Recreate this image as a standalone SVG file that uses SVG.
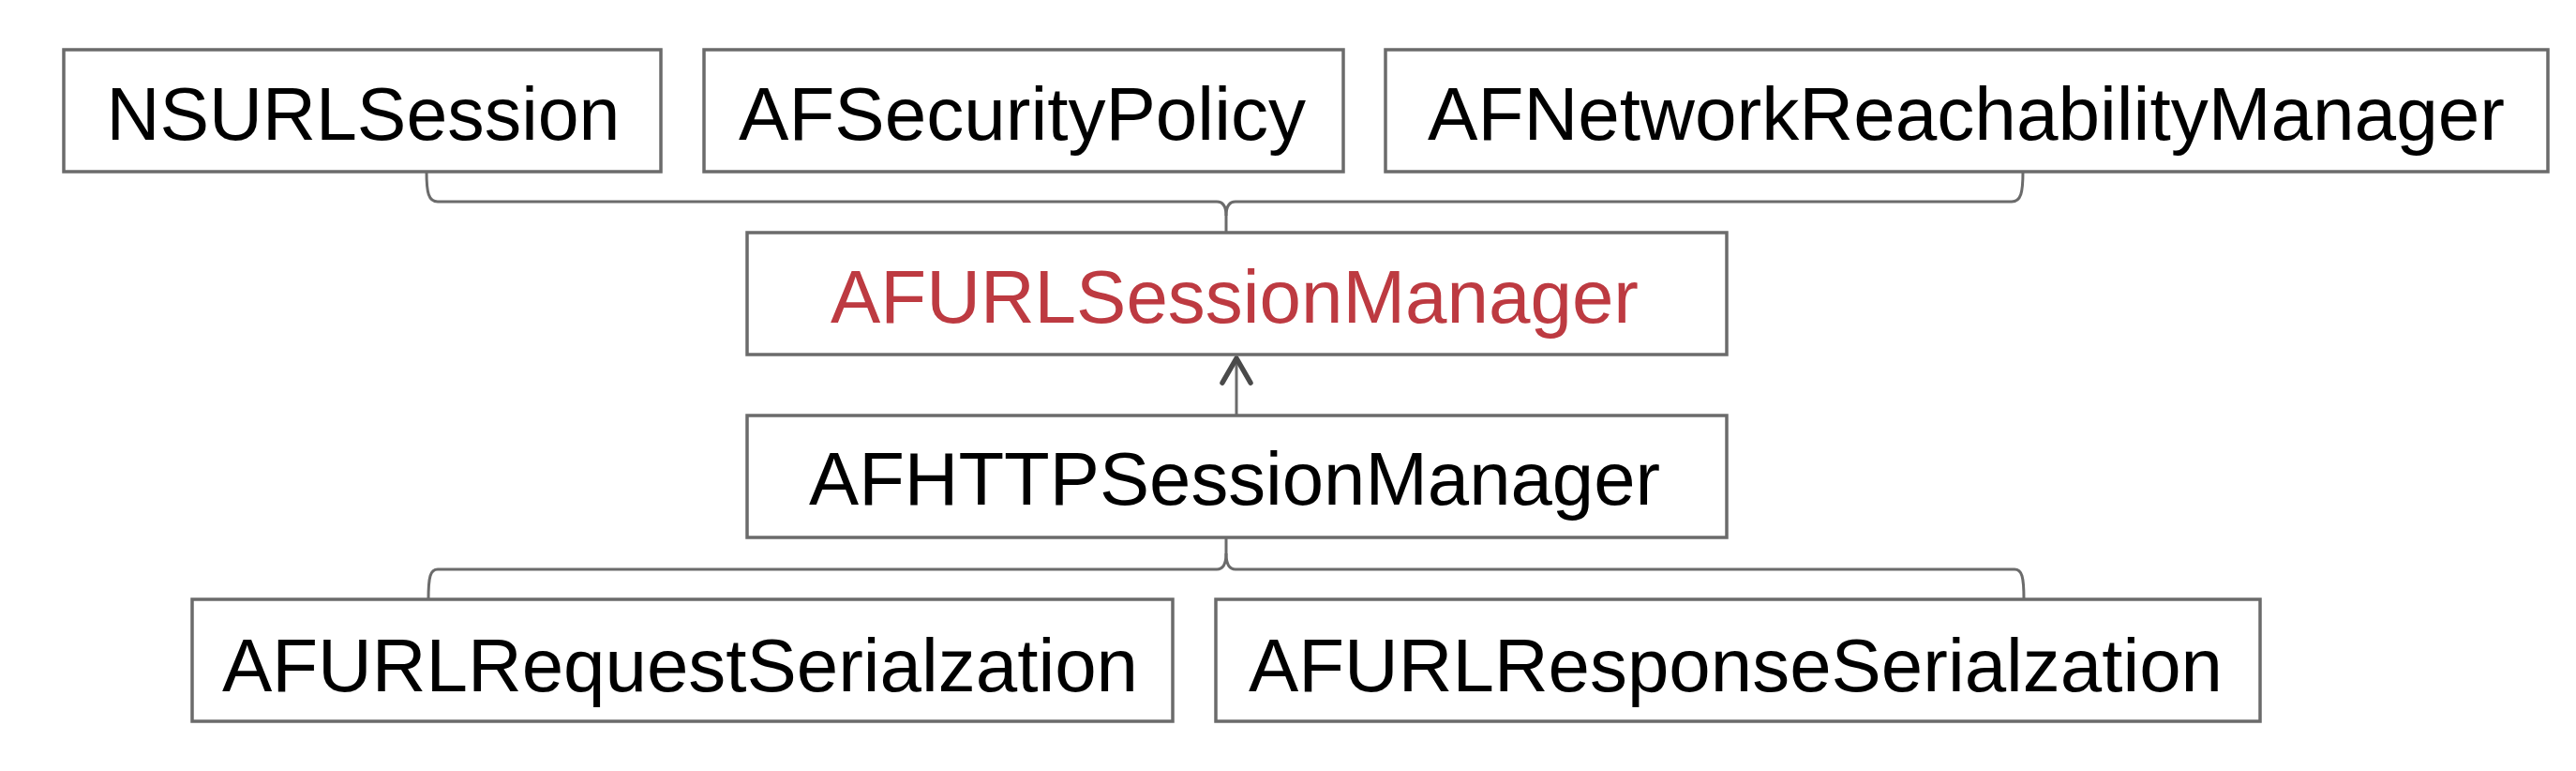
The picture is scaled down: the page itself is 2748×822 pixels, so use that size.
<svg xmlns="http://www.w3.org/2000/svg" width="2748" height="822" viewBox="0 0 2748 822">
<style>
.box{fill:#ffffff;stroke:#6b6b6b;stroke-width:3.5}
.lbl{font-family:"Liberation Sans",Arial,Helvetica,sans-serif;font-size:79px;fill:#000000}
.red{fill:#bd3a41}
.con{fill:none;stroke:#6b6b6b;stroke-width:3}
.arr{fill:none;stroke:#4a4a4a;stroke-width:5.5;stroke-linecap:round;stroke-linejoin:round}
</style>
<rect width="2748" height="822" fill="#ffffff"/>
<g id="connectors">
<path class="con" d="M455,183 C455,205 457,215 467,215 L1298,215 C1305,215 1308,220 1308,230 L1308,248"/>
<path class="con" d="M2158,183 C2158,205 2156,215 2146,215 L1318,215 C1311,215 1308,220 1308,230"/>
<path class="con" d="M1308,573 L1308,590 C1308,600 1305,607 1298,607 L467,607 C459,607 457,615 457,639"/>
<path class="con" d="M1308,590 C1308,600 1311,607 1318,607 L2149,607 C2157,607 2159,615 2159,639"/>
<path class="con" d="M1319,443 L1319,382"/>
<path class="arr" d="M1304,408 L1319,382 L1334,408"/>
</g>
<g id="NSURLSession">
<rect class="box" x="68" y="53" width="637" height="130"/>
<text class="lbl" x="113.5" y="149" textLength="548" lengthAdjust="spacingAndGlyphs">NSURLSession</text>
</g>
<g id="AFSecurityPolicy">
<rect class="box" x="751" y="53" width="682" height="130"/>
<text class="lbl" x="788" y="149" textLength="605" lengthAdjust="spacingAndGlyphs">AFSecurityPolicy</text>
</g>
<g id="AFNetworkReachabilityManager">
<rect class="box" x="1478" y="53" width="1240" height="130"/>
<text class="lbl" x="1523" y="149" textLength="1149" lengthAdjust="spacingAndGlyphs">AFNetworkReachabilityManager</text>
</g>
<g id="AFURLSessionManager">
<rect class="box" x="797" y="248" width="1045" height="130"/>
<text class="lbl red" x="886" y="344" textLength="862" lengthAdjust="spacingAndGlyphs">AFURLSessionManager</text>
</g>
<g id="AFHTTPSessionManager">
<rect class="box" x="797" y="443" width="1045" height="130"/>
<text class="lbl" x="863" y="538" textLength="908" lengthAdjust="spacingAndGlyphs">AFHTTPSessionManager</text>
</g>
<g id="AFURLRequestSerialzation">
<rect class="box" x="205" y="639" width="1046" height="130"/>
<text class="lbl" x="237" y="737" textLength="977" lengthAdjust="spacingAndGlyphs">AFURLRequestSerialzation</text>
</g>
<g id="AFURLResponseSerialzation">
<rect class="box" x="1297" y="639" width="1114" height="130"/>
<text class="lbl" x="1332" y="737" textLength="1039" lengthAdjust="spacingAndGlyphs">AFURLResponseSerialzation</text>
</g>
</svg>
